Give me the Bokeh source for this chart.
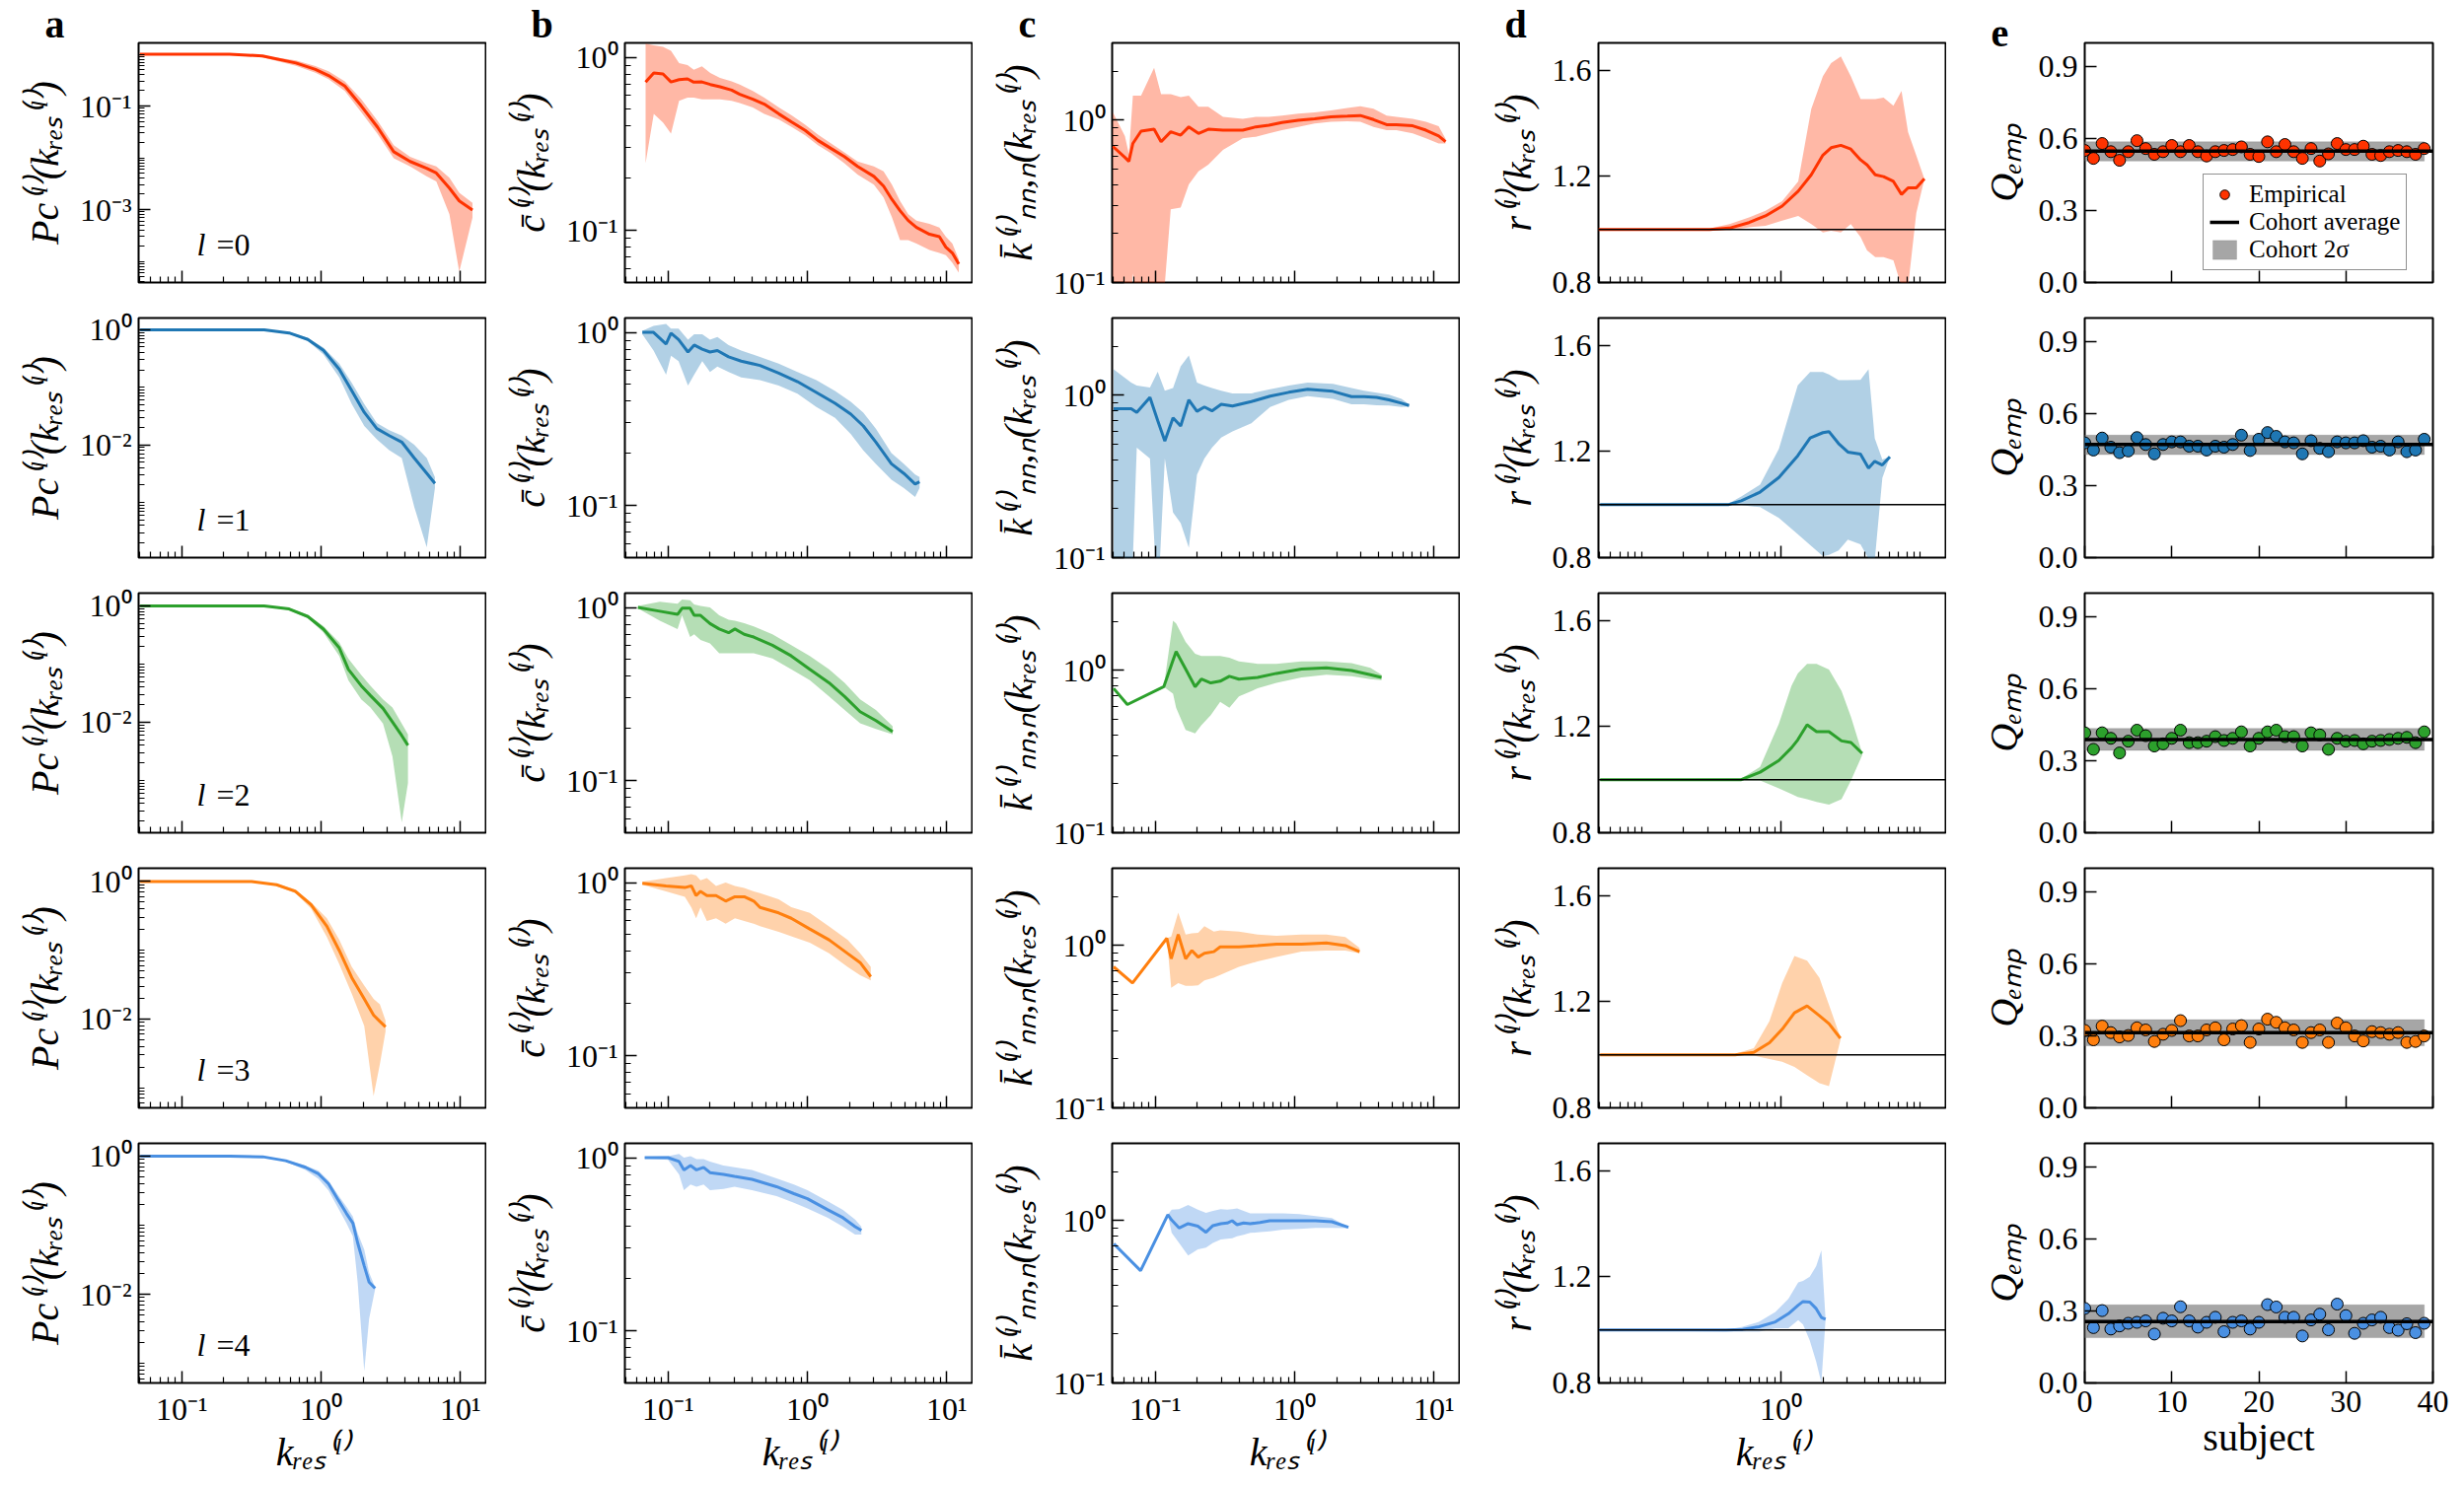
from bokeh.plotting import figure
from bokeh.layouts import gridplot
from bokeh.models import (Range1d, FixedTicker, CustomJSTickFormatter, Label, Span,
                          Legend, LegendItem, Title)
from bokeh.embed import file_html
from bokeh.resources import INLINE

# ---------------- data ----------------
# layer l = 0
A0_K = [0.05, 0.22, 0.38, 0.66, 0.91, 1.13, 1.48, 1.94, 2.54, 3.32, 4.35, 5.71, 6.71, 8.33, 9.8, 12.2]
A0_Y = [1.0, 1.0, 0.93, 0.68, 0.51, 0.39, 0.244, 0.101, 0.039, 0.0131, 0.0085, 0.0063, 0.0051, 0.0026, 0.00147, 0.00098]
A0_LO = [0.98, 0.97, 0.87, 0.60, 0.44, 0.33, 0.196, 0.076, 0.029, 0.0098, 0.0068, 0.0044, 0.0035, 0.00081, 0.000063, 0.0007]
A0_HI = [1.0, 1.0, 0.95, 0.76, 0.59, 0.47, 0.30, 0.136, 0.052, 0.0175, 0.0105, 0.0079, 0.0068, 0.0041, 0.0021, 0.00135]

B0_K = [0.069, 0.079, 0.092, 0.105, 0.12, 0.138, 0.153, 0.175, 0.201, 0.236, 0.286, 0.327, 0.406, 0.49, 0.625, 0.776, 0.964, 1.19, 1.48, 1.84, 2.29, 3.0, 3.52, 4.04, 4.62, 5.29, 6.06, 7.52, 8.85, 9.85, 10.97, 12.2]
B0_Y = [0.718, 0.81, 0.80, 0.72, 0.743, 0.75, 0.718, 0.72, 0.696, 0.675, 0.646, 0.611, 0.572, 0.536, 0.47, 0.421, 0.378, 0.331, 0.297, 0.267, 0.234, 0.205, 0.18, 0.151, 0.13, 0.114, 0.104, 0.095, 0.092, 0.080, 0.074, 0.064]
B0_LO = [0.244, 0.47, 0.42, 0.362, 0.56, 0.585, 0.585, 0.572, 0.572, 0.572, 0.56, 0.543, 0.513, 0.47, 0.437, 0.395, 0.354, 0.31, 0.279, 0.244, 0.21, 0.184, 0.155, 0.119, 0.088, 0.088, 0.084, 0.077, 0.074, 0.072, 0.065, 0.057]
B0_HI = [1.2, 1.17, 1.15, 1.09, 0.925, 0.90, 0.847, 0.885, 0.81, 0.76, 0.726, 0.696, 0.638, 0.585, 0.513, 0.46, 0.407, 0.357, 0.318, 0.282, 0.25, 0.234, 0.219, 0.184, 0.148, 0.124, 0.114, 0.109, 0.104, 0.092, 0.084, 0.068]

C0_K = [0.0496, 0.0605, 0.0646, 0.069, 0.079, 0.098, 0.11, 0.129, 0.152, 0.174, 0.204, 0.24, 0.306, 0.424, 0.526, 0.653, 0.81, 1.06, 1.39, 1.82, 2.39, 2.96, 3.68, 4.57, 5.37, 7.03, 8.75, 10.8, 12.1]
C0_Y = [0.69, 0.59, 0.558, 0.72, 0.857, 0.881, 0.738, 0.85, 0.81, 0.911, 0.83, 0.881, 0.869, 0.869, 0.911, 0.933, 0.968, 1.0, 1.02, 1.05, 1.06, 1.07, 1.01, 0.94, 0.94, 0.925, 0.869, 0.80, 0.738]
C0_LO = [0.05, 0.05, 0.05, 0.114, 0.05, 0.05, 0.05, 0.283, 0.29, 0.402, 0.485, 0.532, 0.656, 0.774, 0.792, 0.83, 0.869, 0.911, 0.955, 0.978, 0.986, 0.978, 0.911, 0.869, 0.869, 0.83, 0.774, 0.72, 0.72]
C0_HI = [1.12, 0.80, 0.62, 1.42, 1.42, 2.11, 1.45, 1.45, 1.39, 1.42, 1.21, 1.21, 1.05, 1.02, 1.05, 1.05, 1.07, 1.1, 1.12, 1.15, 1.19, 1.22, 1.18, 1.07, 1.05, 1.02, 0.978, 0.92, 0.77]

D0_K = [0.049, 0.308, 0.427, 0.59, 0.774, 1.02, 1.33, 1.65, 2.0, 2.29, 2.69, 3.17, 3.73, 4.15, 4.75, 5.45, 6.41, 7.33, 8.17, 9.36, 10.7]
D0_Y = [1.0, 1.0, 1.005, 1.026, 1.051, 1.088, 1.144, 1.206, 1.28, 1.308, 1.317, 1.303, 1.262, 1.243, 1.206, 1.199, 1.181, 1.132, 1.157, 1.157, 1.191]
D0_LO = [1.0, 0.997, 0.997, 1.008, 1.014, 1.033, 1.051, 1.02, 0.989, 0.995, 0.989, 1.02, 0.971, 0.921, 0.896, 0.896, 0.884, 0.785, 0.785, 1.062, 1.19]
D0_HI = [1.0, 1.003, 1.02, 1.045, 1.07, 1.107, 1.181, 1.454, 1.578, 1.627, 1.652, 1.578, 1.491, 1.491, 1.491, 1.497, 1.466, 1.522, 1.367, 1.278, 1.19]

E0_Q = [0.551, 0.518, 0.58, 0.546, 0.51, 0.546, 0.592, 0.559, 0.535, 0.546, 0.572, 0.546, 0.572, 0.546, 0.528, 0.546, 0.551, 0.555, 0.566, 0.535,
        0.526, 0.587, 0.546, 0.576, 0.546, 0.518, 0.559, 0.507, 0.537, 0.58, 0.555, 0.555, 0.569, 0.535, 0.53, 0.546, 0.551, 0.546, 0.535, 0.559]
E0_AVG = 0.548
E0_BAND = [0.507, 0.587]

# layer l = 1
A1_K = [0.0503, 0.39, 0.589, 0.803, 1.04, 1.35, 1.66, 2.04, 2.51, 3.08, 3.79, 4.66, 5.73, 6.56]
A1_Y = [1.0, 1.0, 0.88, 0.678, 0.44, 0.206, 0.087, 0.0368, 0.0192, 0.0145, 0.0112, 0.0059, 0.0032, 0.00214]
A1_LO = [1.0, 0.98, 0.85, 0.64, 0.37, 0.149, 0.051, 0.0214, 0.0125, 0.0081, 0.0059, 0.00084, 0.000166, 0.00178]
A1_HI = [1.0, 1.0, 0.92, 0.72, 0.49, 0.257, 0.12, 0.051, 0.024, 0.018, 0.0145, 0.0101, 0.0059, 0.00275]

B1_K = [0.0654, 0.0787, 0.0968, 0.105, 0.119, 0.139, 0.154, 0.176, 0.2, 0.226, 0.272, 0.335, 0.457, 0.622, 0.849, 1.16, 1.58, 2.05, 2.52, 3.1, 4.01, 4.93, 5.93, 6.38]
B1_Y = [1.0, 1.0, 0.857, 0.99, 0.908, 0.77, 0.845, 0.80, 0.77, 0.785, 0.722, 0.682, 0.644, 0.582, 0.519, 0.45, 0.389, 0.337, 0.288, 0.232, 0.174, 0.153, 0.133, 0.137]
B1_LO = [0.975, 0.785, 0.57, 0.733, 0.682, 0.493, 0.57, 0.682, 0.59, 0.634, 0.59, 0.55, 0.53, 0.493, 0.443, 0.37, 0.321, 0.258, 0.208, 0.174, 0.141, 0.126, 0.112, 0.126]
B1_HI = [1.02, 1.09, 1.12, 1.05, 1.05, 0.908, 0.975, 0.975, 0.908, 0.94, 0.845, 0.785, 0.722, 0.66, 0.59, 0.53, 0.459, 0.397, 0.344, 0.278, 0.201, 0.174, 0.151, 0.146]

C1_K = [0.0502, 0.0671, 0.0736, 0.0915, 0.104, 0.117, 0.134, 0.152, 0.174, 0.199, 0.225, 0.255, 0.297, 0.358, 0.489, 0.667, 0.908, 1.24, 1.88, 2.56, 3.15, 3.87, 4.75, 5.84, 6.62]
C1_Y = [0.828, 0.828, 0.785, 0.973, 0.70, 0.523, 0.727, 0.648, 0.938, 0.798, 0.848, 0.803, 0.881, 0.861, 0.916, 0.99, 1.045, 1.09, 1.06, 0.982, 0.982, 0.973, 0.938, 0.895, 0.867]
C1_LO = [0.05, 0.05, 0.476, 0.408, 0.05, 0.408, 0.19, 0.163, 0.115, 0.324, 0.408, 0.476, 0.55, 0.6, 0.674, 0.848, 0.938, 0.99, 0.952, 0.881, 0.881, 0.87, 0.867, 0.848, 0.855]
C1_HI = [1.45, 1.2, 1.15, 1.12, 1.4, 1.07, 1.11, 1.51, 1.76, 1.2, 1.15, 1.11, 1.07, 1.03, 1.03, 1.09, 1.15, 1.2, 1.18, 1.11, 1.07, 1.04, 1.01, 0.952, 0.881]

D1_K = [0.0504, 0.422, 0.519, 0.708, 0.966, 1.32, 1.62, 2.0, 2.21, 2.59, 3.02, 3.72, 4.25, 4.71, 5.34, 6.05]
D1_Y = [1.0, 1.0, 1.014, 1.047, 1.102, 1.184, 1.251, 1.271, 1.275, 1.23, 1.198, 1.19, 1.137, 1.163, 1.149, 1.18]
D1_LO = [1.0, 0.996, 0.998, 0.99, 0.95, 0.888, 0.847, 0.806, 0.81, 0.827, 0.868, 0.85, 0.796, 0.79, 1.1, 1.18]
D1_HI = [1.0, 1.004, 1.03, 1.075, 1.21, 1.449, 1.5, 1.5, 1.49, 1.469, 1.469, 1.47, 1.51, 1.25, 1.17, 1.18]

E1_Q = [0.479, 0.449, 0.499, 0.461, 0.438, 0.445, 0.501, 0.472, 0.433, 0.472, 0.483, 0.483, 0.465, 0.465, 0.449, 0.465, 0.461, 0.472, 0.511, 0.447,
        0.494, 0.522, 0.506, 0.483, 0.479, 0.433, 0.488, 0.456, 0.442, 0.483, 0.479, 0.479, 0.488, 0.461, 0.465, 0.449, 0.483, 0.442, 0.449, 0.494]
E1_AVG = 0.472
E1_BAND = [0.43, 0.511]

# layer l = 2
A2_K = [0.0503, 0.39, 0.589, 0.803, 1.04, 1.35, 1.57, 1.94, 2.26, 2.78, 3.25, 3.79, 4.2]
A2_Y = [1.0, 1.0, 0.885, 0.657, 0.40, 0.19, 0.081, 0.0424, 0.0288, 0.0173, 0.0101, 0.0059, 0.004]
A2_LO = [1.0, 0.98, 0.85, 0.62, 0.347, 0.138, 0.0525, 0.0248, 0.018, 0.0095, 0.0026, 0.00019, 0.0009]
A2_HI = [1.0, 1.0, 0.92, 0.70, 0.447, 0.235, 0.124, 0.065, 0.0424, 0.0248, 0.018, 0.0095, 0.0062]

B2_K = [0.0608, 0.0873, 0.117, 0.126, 0.144, 0.154, 0.171, 0.2, 0.233, 0.272, 0.302, 0.352, 0.412, 0.561, 0.766, 1.04, 1.43, 1.85, 2.39, 3.1, 4.09]
B2_Y = [1.0, 0.951, 0.912, 0.99, 0.99, 0.9, 0.9, 0.807, 0.751, 0.714, 0.751, 0.7, 0.675, 0.605, 0.525, 0.439, 0.367, 0.306, 0.25, 0.222, 0.192]
B2_LO = [0.987, 0.837, 0.751, 0.9, 0.675, 0.7, 0.65, 0.62, 0.544, 0.544, 0.544, 0.544, 0.544, 0.507, 0.439, 0.38, 0.306, 0.256, 0.214, 0.199, 0.185]
B2_HI = [1.02, 1.08, 1.05, 1.11, 1.1, 1.04, 1.02, 1.0, 0.9, 0.85, 0.837, 0.81, 0.778, 0.70, 0.605, 0.525, 0.439, 0.367, 0.295, 0.256, 0.206]

C2_K = [0.0502, 0.063, 0.115, 0.134, 0.141, 0.165, 0.193, 0.214, 0.25, 0.292, 0.34, 0.398, 0.542, 0.74, 1.12, 1.69, 2.56, 3.49, 4.2]
C2_Y = [0.776, 0.617, 0.794, 1.16, 1.31, 1.02, 0.794, 0.885, 0.839, 0.859, 0.921, 0.885, 0.906, 0.96, 1.02, 1.04, 1.0, 0.942, 0.906]
C2_LO = [0.776, 0.617, 0.794, 0.719, 0.59, 0.43, 0.41, 0.46, 0.53, 0.641, 0.59, 0.692, 0.776, 0.839, 0.906, 0.942, 0.921, 0.885, 0.871]
C2_HI = [0.776, 0.617, 0.794, 2.03, 1.95, 1.5, 1.27, 1.23, 1.23, 1.23, 1.2, 1.14, 1.1, 1.1, 1.14, 1.14, 1.11, 1.04, 0.942]

D2_K = [0.0504, 0.519, 0.708, 0.966, 1.19, 1.32, 1.54, 1.8, 2.21, 2.72, 3.18, 3.83]
D2_Y = [1.0, 1.0, 1.028, 1.072, 1.12, 1.15, 1.207, 1.181, 1.181, 1.146, 1.14, 1.099]
D2_LO = [1.0, 0.997, 0.997, 0.967, 0.946, 0.935, 0.926, 0.916, 0.906, 0.926, 0.997, 1.093]
D2_HI = [1.0, 1.004, 1.048, 1.211, 1.354, 1.40, 1.436, 1.436, 1.415, 1.334, 1.237, 1.099]

E2_Q = [0.417, 0.348, 0.417, 0.394, 0.333, 0.382, 0.428, 0.405, 0.362, 0.371, 0.394, 0.428, 0.376, 0.376, 0.382, 0.401, 0.385, 0.394, 0.421, 0.362,
        0.394, 0.421, 0.428, 0.401, 0.401, 0.362, 0.417, 0.408, 0.348, 0.394, 0.382, 0.385, 0.371, 0.382, 0.385, 0.389, 0.394, 0.398, 0.376, 0.421]
E2_AVG = 0.389
E2_BAND = [0.344, 0.435]

# layer l = 3
A3_K = [0.0503, 0.317, 0.479, 0.653, 0.846, 1.1, 1.35, 1.66, 2.04, 2.38, 2.64, 2.9]
A3_Y = [1.0, 1.0, 0.897, 0.722, 0.46, 0.223, 0.099, 0.040, 0.0196, 0.0114, 0.0092, 0.0077]
A3_LO = [1.0, 0.98, 0.86, 0.68, 0.405, 0.156, 0.063, 0.0234, 0.0079, 0.00076, 0.0022, 0.0066]
A3_HI = [1.0, 1.0, 0.93, 0.77, 0.50, 0.293, 0.142, 0.0575, 0.0307, 0.0196, 0.0163, 0.0095]

B3_K = [0.0654, 0.0968, 0.132, 0.147, 0.159, 0.171, 0.19, 0.221, 0.259, 0.302, 0.352, 0.412, 0.457, 0.622, 0.766, 1.04, 1.43, 1.94, 2.39, 2.85]
B3_Y = [0.99, 0.957, 0.936, 0.957, 0.841, 0.89, 0.841, 0.841, 0.782, 0.828, 0.828, 0.782, 0.718, 0.668, 0.622, 0.539, 0.467, 0.39, 0.345, 0.286]
B3_LO = [0.97, 0.89, 0.828, 0.718, 0.622, 0.718, 0.6, 0.622, 0.578, 0.622, 0.6, 0.578, 0.56, 0.52, 0.49, 0.45, 0.39, 0.326, 0.292, 0.272]
B3_HI = [1.01, 1.06, 1.1, 1.12, 1.1, 1.03, 1.06, 0.957, 1.0, 0.957, 0.93, 0.89, 0.87, 0.80, 0.72, 0.668, 0.558, 0.467, 0.39, 0.326]

C3_K = [0.0502, 0.0686, 0.121, 0.13, 0.146, 0.165, 0.183, 0.203, 0.225, 0.263, 0.292, 0.398, 0.542, 0.74, 1.12, 1.69, 2.31, 2.92]
C3_Y = [0.74, 0.588, 1.11, 0.83, 1.17, 0.83, 0.933, 0.85, 0.897, 0.918, 0.983, 0.983, 1.0, 1.02, 1.02, 1.04, 1.0, 0.918]
C3_LO = [0.74, 0.588, 1.11, 0.55, 0.588, 0.565, 0.565, 0.57, 0.611, 0.634, 0.66, 0.74, 0.80, 0.85, 0.918, 0.933, 0.933, 0.897]
C3_HI = [0.74, 0.588, 1.11, 1.14, 1.6, 1.17, 1.19, 1.2, 1.32, 1.22, 1.24, 1.22, 1.17, 1.15, 1.17, 1.17, 1.13, 0.968]

D3_K = [0.0504, 0.468, 0.638, 0.827, 1.02, 1.25, 1.54, 1.89, 2.21, 2.67]
D3_Y = [1.0, 1.0, 1.009, 1.045, 1.096, 1.158, 1.184, 1.147, 1.117, 1.062]
D3_LO = [1.0, 0.997, 0.997, 0.984, 0.974, 0.954, 0.923, 0.893, 0.882, 1.055]
D3_HI = [1.0, 1.003, 1.025, 1.127, 1.27, 1.372, 1.355, 1.29, 1.188, 1.066]

E3_Q = [0.323, 0.284, 0.341, 0.314, 0.296, 0.302, 0.334, 0.325, 0.277, 0.307, 0.323, 0.364, 0.30, 0.30, 0.325, 0.334, 0.284, 0.329, 0.343, 0.273,
        0.329, 0.370, 0.357, 0.334, 0.325, 0.273, 0.314, 0.325, 0.273, 0.354, 0.334, 0.30, 0.279, 0.318, 0.314, 0.307, 0.314, 0.273, 0.277, 0.30]
E3_AVG = 0.314
E3_BAND = [0.259, 0.368]

# layer l = 4
A4_K = [0.0504, 0.222, 0.382, 0.557, 0.771, 0.957, 1.13, 1.33, 1.52, 1.69, 1.83, 2.04, 2.21, 2.44]
A4_Y = [1.0, 1.0, 0.977, 0.857, 0.689, 0.553, 0.398, 0.23, 0.148, 0.107, 0.0553, 0.0257, 0.015, 0.0122]
A4_LO = [1.0, 1.0, 0.96, 0.83, 0.63, 0.469, 0.319, 0.175, 0.107, 0.069, 0.0148, 0.00077, 0.0044, 0.0118]
A4_HI = [1.0, 1.0, 0.99, 0.88, 0.728, 0.617, 0.444, 0.271, 0.185, 0.133, 0.0769, 0.0444, 0.0206, 0.0126]

B4_K = [0.068, 0.1, 0.12, 0.13, 0.145, 0.16, 0.18, 0.2, 0.25, 0.3, 0.4, 0.6, 0.8, 1.0, 1.4, 1.8, 2.2, 2.44]
B4_Y = [1.0, 1.0, 0.95, 0.85, 0.9, 0.85, 0.88, 0.82, 0.8, 0.78, 0.75, 0.68, 0.62, 0.58, 0.5, 0.45, 0.4, 0.38]
B4_LO = [0.99, 0.97, 0.8, 0.65, 0.7, 0.68, 0.7, 0.65, 0.66, 0.68, 0.65, 0.6, 0.55, 0.51, 0.45, 0.4, 0.36, 0.36]
B4_HI = [1.01, 1.02, 1.05, 1.0, 1.02, 0.98, 0.98, 0.95, 0.9, 0.88, 0.85, 0.76, 0.7, 0.65, 0.56, 0.5, 0.44, 0.4]

C4_K = [0.0504, 0.0784, 0.123, 0.131, 0.148, 0.172, 0.202, 0.231, 0.259, 0.295, 0.328, 0.356, 0.386, 0.43, 0.48, 0.564, 0.663, 0.823, 1.08, 1.41, 1.85, 2.43]
C4_Y = [0.721, 0.492, 1.09, 1.01, 0.903, 0.959, 0.925, 0.849, 0.933, 0.959, 0.968, 1.0, 0.946, 0.968, 0.959, 0.977, 1.0, 1.0, 1.0, 1.0, 0.986, 0.912]
C4_LO = [0.721, 0.492, 1.09, 0.841, 0.731, 0.61, 0.666, 0.682, 0.731, 0.766, 0.774, 0.78, 0.803, 0.82, 0.841, 0.85, 0.86, 0.881, 0.891, 0.903, 0.903, 0.9]
C4_HI = [0.721, 0.492, 1.09, 1.17, 1.18, 1.25, 1.17, 1.12, 1.15, 1.18, 1.17, 1.18, 1.19, 1.15, 1.11, 1.11, 1.11, 1.11, 1.1, 1.07, 1.04, 0.912]

D4_K = [0.0495, 0.404, 0.531, 0.695, 0.912, 1.13, 1.33, 1.44, 1.61, 1.79, 1.95, 2.09]
D4_Y = [1.0, 1.0, 1.002, 1.012, 1.03, 1.061, 1.093, 1.107, 1.105, 1.08, 1.047, 1.04]
D4_LO = [1.0, 0.993, 0.993, 0.993, 1.006, 1.006, 1.037, 1.02, 0.96, 0.88, 0.80, 1.04]
D4_HI = [1.0, 1.0, 1.012, 1.03, 1.068, 1.117, 1.179, 1.185, 1.2, 1.24, 1.3, 1.04]

E4_Q = [0.311, 0.231, 0.302, 0.225, 0.238, 0.249, 0.253, 0.259, 0.204, 0.27, 0.259, 0.318, 0.259, 0.233, 0.253, 0.274, 0.214, 0.253, 0.259, 0.225,
        0.253, 0.327, 0.317, 0.274, 0.274, 0.196, 0.263, 0.287, 0.222, 0.329, 0.281, 0.207, 0.249, 0.263, 0.274, 0.231, 0.22, 0.247, 0.21, 0.249]
E4_AVG = 0.256
E4_BAND = [0.189, 0.326]

SUBJECTS = list(range(40))
LAYERS = [0, 1, 2, 3, 4]
PANEL_LETTERS = ["a", "b", "c", "d", "e"]
COLORS = ["#ff3300", "#1f77b4", "#2ca02c", "#ff7f0e", "#4a90e2"]

A_DATA = [(A0_K, A0_Y, A0_LO, A0_HI), (A1_K, A1_Y, A1_LO, A1_HI), (A2_K, A2_Y, A2_LO, A2_HI), (A3_K, A3_Y, A3_LO, A3_HI), (A4_K, A4_Y, A4_LO, A4_HI)]
B_DATA = [(B0_K, B0_Y, B0_LO, B0_HI), (B1_K, B1_Y, B1_LO, B1_HI), (B2_K, B2_Y, B2_LO, B2_HI), (B3_K, B3_Y, B3_LO, B3_HI), (B4_K, B4_Y, B4_LO, B4_HI)]
C_DATA = [(C0_K, C0_Y, C0_LO, C0_HI), (C1_K, C1_Y, C1_LO, C1_HI), (C2_K, C2_Y, C2_LO, C2_HI), (C3_K, C3_Y, C3_LO, C3_HI), (C4_K, C4_Y, C4_LO, C4_HI)]
D_DATA = [(D0_K, D0_Y, D0_LO, D0_HI), (D1_K, D1_Y, D1_LO, D1_HI), (D2_K, D2_Y, D2_LO, D2_HI), (D3_K, D3_Y, D3_LO, D3_HI), (D4_K, D4_Y, D4_LO, D4_HI)]
E_DATA = [(E0_Q, E0_AVG, E0_BAND), (E1_Q, E1_AVG, E1_BAND), (E2_Q, E2_AVG, E2_BAND), (E3_Q, E3_AVG, E3_BAND), (E4_Q, E4_AVG, E4_BAND)]

# axis limits
K_RANGE = (0.049, 15.2)
A_YRANGES = [(3.9e-5, 1.66), (1.1e-4, 1.6), (1.26e-4, 1.66), (5.1e-4, 1.56), (5.2e-4, 1.53)]
B_YRANGE = (0.05, 1.21)
C_YRANGE = (0.1, 3.0)
D_YRANGE = (0.8, 1.703)
E_XRANGE = (0, 40)
E_YRANGE = (0.0, 1.0)

# ---------------- layout / style ----------------
SERIF = "Liberation Serif"
TICK_FS = "32px"
LABEL_FS = "40px"
COL_W = [493, 493, 494, 493, 525]
COL_LEFT = [140, 140, 141, 140, 140]
COL_RIGHT = [1, 1, 1, 1, 32]
ROW_H = [304, 279, 279, 279, 365]
ROW_TOP = [43, 18, 18, 18, 18]
ROW_BOT = [18, 18, 18, 18, 104]

SUP = "const m={'-':'\u207b','0':'\u2070','1':'\u00b9','2':'\u00b2','3':'\u00b3','4':'\u2074','5':'\u2075','6':'\u2076','7':'\u2077','8':'\u2078','9':'\u2079'};"
LOG_FMT = SUP + "const e=Math.round(Math.log10(tick)); return '10'+String(e).split('').map(c=>m[c]).join('');"
BLANK_FMT = "return '';"


def decade_minors(lo_exp, hi_exp, majors):
    out = []
    for e in range(lo_exp, hi_exp + 1):
        for m in range(1, 10):
            v = m * 10.0 ** e
            if all(abs(v / t - 1) > 1e-9 for t in majors):
                out.append(v)
    return out


def style_axis(ax, show_labels, fmt_code):
    ax.axis_line_color = None
    ax.major_tick_in = 12
    ax.major_tick_out = 0
    ax.minor_tick_in = 6
    ax.minor_tick_out = 0
    ax.major_tick_line_width = 1.5
    ax.minor_tick_line_width = 1.2
    ax.major_tick_line_color = "black"
    ax.minor_tick_line_color = "black"
    ax.major_label_text_font = SERIF
    ax.major_label_text_font_size = TICK_FS
    ax.major_label_text_color = "black"
    ax.axis_label_text_font = SERIF
    ax.axis_label_text_font_size = LABEL_FS
    ax.axis_label_text_color = "black"
    ax.axis_label_text_font_style = "italic"
    if show_labels:
        ax.formatter = CustomJSTickFormatter(code=fmt_code)
    else:
        ax.formatter = CustomJSTickFormatter(code=BLANK_FMT)
        ax.major_label_standoff = 0


def make_fig(r, c, xlog, ylog, xr, yr):
    p = figure(width=COL_W[c], height=ROW_H[r], title=None,
               x_axis_type="log" if xlog else "linear",
               y_axis_type="log" if ylog else "linear",
               x_range=Range1d(*xr), y_range=Range1d(*yr),
               output_backend="svg", toolbar_location=None,
               min_border_left=COL_LEFT[c], min_border_right=COL_RIGHT[c],
               min_border_top=ROW_TOP[r], min_border_bottom=ROW_BOT[r])
    p.outline_line_color = "black"
    p.outline_line_width = 2
    p.outline_line_alpha = 1
    p.grid.grid_line_color = None
    p.background_fill_color = "white"
    p.border_fill_color = "white"
    if r == 0:
        p.title = Title(text=PANEL_LETTERS[c], align="left", offset=-95, standoff=-6,
                        text_font=SERIF, text_font_size="40px", text_font_style="bold",
                        text_color="black")
    return p


KRES = "k\u1d63\u2091\u209b\u207d\u02e1\u207e"
Y_LABELS = ["Pc\u207d\u02e1\u207e(" + KRES + ")",
            "c\u0304\u207d\u02e1\u207e(" + KRES + ")",
            "k\u0304\u207d\u02e1\u207e\u2099\u2099,\u2099(" + KRES + ")",
            "r\u207d\u02e1\u207e(" + KRES + ")",
            "Q\u2091\u2098\u209a"]

K_MAJORS = [0.1, 1.0, 10.0]
K_MINORS = decade_minors(-2, 0, K_MAJORS)
D_K_MINORS = decade_minors(-2, 0, [1.0]) + [10.0]

grid = []
for r in LAYERS:
    color = COLORS[r]
    last = (r == LAYERS[-1])
    row = []
    for c in range(5):
        if c < 4:
            yr = [A_YRANGES[r], B_YRANGE, C_YRANGE, D_YRANGE][c]
            p = make_fig(r, c, True, c < 3, K_RANGE, yr)
            k, y, lo, hi = [A_DATA, B_DATA, C_DATA, D_DATA][c][r]
            if c == 3:
                p.add_layout(Span(location=1.0, dimension="width", line_color="black", line_width=1.5))
            p.varea(x=k, y1=lo, y2=hi, fill_color=color, fill_alpha=0.35)
            p.line(x=k, y=y, line_color=color, line_width=3)
            if c < 3:
                p.xaxis.ticker = FixedTicker(ticks=K_MAJORS, minor_ticks=K_MINORS)
            else:
                p.xaxis.ticker = FixedTicker(ticks=[1.0], minor_ticks=D_K_MINORS)
            style_axis(p.xaxis[0], last, LOG_FMT)
            if c == 0:
                majors = [1e-3, 1e-1] if r == 0 else [1e-2, 1.0]
                p.yaxis.ticker = FixedTicker(ticks=majors, minor_ticks=decade_minors(-5, 0, majors))
                style_axis(p.yaxis[0], True, LOG_FMT)
            elif c == 1:
                p.yaxis.ticker = FixedTicker(ticks=[0.1, 1.0], minor_ticks=decade_minors(-2, -1, [0.1, 1.0]))
                style_axis(p.yaxis[0], True, LOG_FMT)
            elif c == 2:
                p.yaxis.ticker = FixedTicker(ticks=[0.1, 1.0], minor_ticks=decade_minors(-1, 0, [0.1, 1.0]))
                style_axis(p.yaxis[0], True, LOG_FMT)
            else:
                p.yaxis.ticker = FixedTicker(ticks=[0.8, 1.2, 1.6], minor_ticks=[])
                style_axis(p.yaxis[0], True, "return tick.toFixed(1);")
            if last:
                p.xaxis.axis_label = KRES
                p.xaxis.major_label_standoff = 8
                p.xaxis.axis_label_standoff = 0
            if c == 0:
                p.add_layout(Label(x=59, y=39, x_units="screen", y_units="screen", text="l",
                                   text_font=SERIF, text_font_size="32px", text_font_style="italic",
                                   text_baseline="alphabetic", text_color="black"))
                p.add_layout(Label(x=79, y=39, x_units="screen", y_units="screen", text="=%d" % r,
                                   text_font=SERIF, text_font_size="32px",
                                   text_baseline="alphabetic", text_color="black"))
        else:
            p = make_fig(r, c, False, False, E_XRANGE, E_YRANGE)
            q, avg, band = E_DATA[r]
            rb = p.quad(left=[SUBJECTS[0]], right=[SUBJECTS[-1]], bottom=[band[0]], top=[band[1]],
                        fill_color="gray", fill_alpha=0.7, line_color="gray", line_alpha=0.3)
            rs = p.scatter(x=SUBJECTS, y=q, size=12, marker="circle", fill_color=color,
                           line_color="black", line_width=1)
            rl = p.line(x=list(E_XRANGE), y=[avg, avg], line_color="black", line_width=3.5)
            p.xaxis.ticker = FixedTicker(ticks=[0, 10, 20, 30, 40], minor_ticks=[])
            p.yaxis.ticker = FixedTicker(ticks=[0.0, 0.3, 0.6, 0.9], minor_ticks=[])
            style_axis(p.xaxis[0], last, "return tick.toFixed(0);")
            style_axis(p.yaxis[0], True, "return tick.toFixed(1);")
            if last:
                p.xaxis.axis_label = "subject"
                p.xaxis.axis_label_text_font_style = "normal"
                p.xaxis.major_label_standoff = 8
                p.xaxis.axis_label_standoff = 0
            if r == 0:
                leg = Legend(items=[LegendItem(label="Empirical", renderers=[rs]),
                                    LegendItem(label="Cohort average", renderers=[rl]),
                                    LegendItem(label="Cohort 2\u03c3", renderers=[rb])],
                             location=(120, 12))
                leg.label_text_font = SERIF
                leg.label_text_font_size = "25px"
                leg.label_text_color = "black"
                leg.border_line_color = "#222222"
                leg.border_line_width = 1.5
                leg.padding = 6
                leg.spacing = 0
                leg.margin = 0
                leg.label_standoff = 10
                leg.glyph_width = 30
                leg.glyph_height = 24
                leg.label_height = 24
                leg.background_fill_alpha = 1.0
                p.add_layout(leg)
        p.yaxis.axis_label = Y_LABELS[c]
        p.yaxis.major_label_standoff = 7
        p.yaxis.axis_label_standoff = 10
        row.append(p)
    grid.append(row)

layout = gridplot(grid, toolbar_location=None)
open("out.html", "w").write(file_html(layout, INLINE))
